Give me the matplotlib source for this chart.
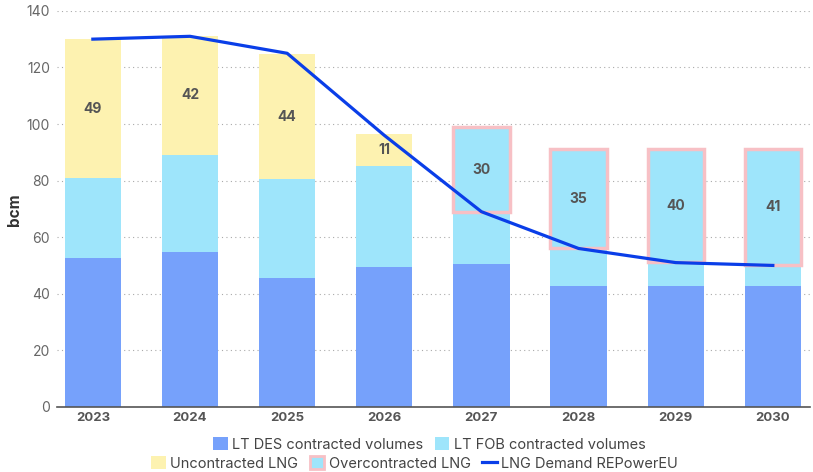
import numpy as np
import matplotlib.pyplot as plt
from matplotlib.lines import Line2D
from matplotlib.patches import Patch

plt.rcParams['font.family'] = ['Inter', 'DejaVu Sans']

years = ['2023', '2024', '2025', '2026', '2027', '2028', '2029', '2030']
des = [52.7, 54.8, 45.4, 49.4, 50.5, 42.8, 42.8, 42.8]
fob = [28.2, 34.3, 35.2, 35.9, 48.4, 48.3, 48.3, 48.3]
uncontracted = [49, 42, 44, 11, 0, 0, 0, 0]
overcontracted = [0, 0, 0, 0, 30, 35, 40, 41]
demand = [130, 131, 125, 96, 69, 56, 51, 50]

c_des = '#76a1fb'
c_fob = '#9ee5fb'
c_unc = '#fdf2b0'
c_over = '#f7c0c5'
c_line = '#0a3ee8'
c_text = '#555555'

fig = plt.figure(figsize=(8.13, 4.72), dpi=100)
ax = fig.add_axes([0.070, 0.138, 0.926, 0.839])

x = np.arange(len(years))
w = 0.58
des = np.array(des)
fob = np.array(fob)
unc = np.array(uncontracted)
over = np.array(overcontracted)
dem = np.array(demand)

ax.bar(x, des, w, color=c_des, zorder=2)
ax.bar(x, fob, w, bottom=des, color=c_fob, zorder=2)
m = unc > 0
ax.bar(x[m], unc[m], w, bottom=(des + fob)[m], color=c_unc, zorder=2)
m2 = over > 0
ax.bar(x[m2], over[m2], w, bottom=(des + fob - over)[m2], color=c_fob,
       edgecolor=c_over, linewidth=2.5, zorder=3)

for i in range(len(x)):
    if unc[i] > 0:
        ax.text(x[i], des[i] + fob[i] + unc[i] / 2, str(unc[i]), ha='center', va='center',
                fontsize=10, fontweight='bold', color=c_text, zorder=5)
    if over[i] > 0:
        ax.text(x[i], des[i] + fob[i] - over[i] / 2, str(over[i]), ha='center', va='center',
                fontsize=10, fontweight='bold', color=c_text, zorder=5)

ax.plot(x, dem, color=c_line, linewidth=2.3, zorder=4)

ax.set_xlim(-0.37, 7.38)
ax.set_ylim(0, 140)
ax.set_yticks(np.arange(0, 141, 20))
ax.set_xticks(x)
ax.set_xticklabels(years, fontweight='bold', color=c_text, fontsize=9.5)
ax.tick_params(axis='y', colors='#666666', labelsize=10, length=0, pad=5)
ax.tick_params(axis='x', length=0, pad=4)
ax.grid(axis='y', linestyle=(0, (1, 3)), color='#aaaaaa', linewidth=0.8, zorder=0)
for s in ['left', 'right', 'top']:
    ax.spines[s].set_visible(False)
ax.spines['bottom'].set_color('#555555')
ax.spines['bottom'].set_linewidth(1.2)
fig.text(15 / 813, 0.555, 'bcm', rotation=90, ha='center', va='center',
         fontweight='bold', color='#333333', fontsize=11)

h1 = [Patch(facecolor=c_des), Patch(facecolor=c_fob)]
l1 = ['LT DES contracted volumes', 'LT FOB contracted volumes']
h2 = [Patch(facecolor=c_unc), Patch(facecolor=c_fob, edgecolor=c_over, linewidth=2),
      Line2D([0], [0], color=c_line, linewidth=2.3)]
l2 = ['Uncontracted LNG', 'Overcontracted LNG', 'LNG Demand REPowerEU']
kw = dict(frameon=False, fontsize=10.5, handlelength=1.0, handleheight=1.0,
          handletextpad=0.3, columnspacing=0.8, labelcolor='#444444')
fig.legend(h1, l1, loc='center', bbox_to_anchor=(0.528, 0.058), ncol=2, **kw)
fig.legend(h2, l2, loc='center', bbox_to_anchor=(0.51, 0.018), ncol=3, **kw)

fig.savefig('out.png', dpi=100)
